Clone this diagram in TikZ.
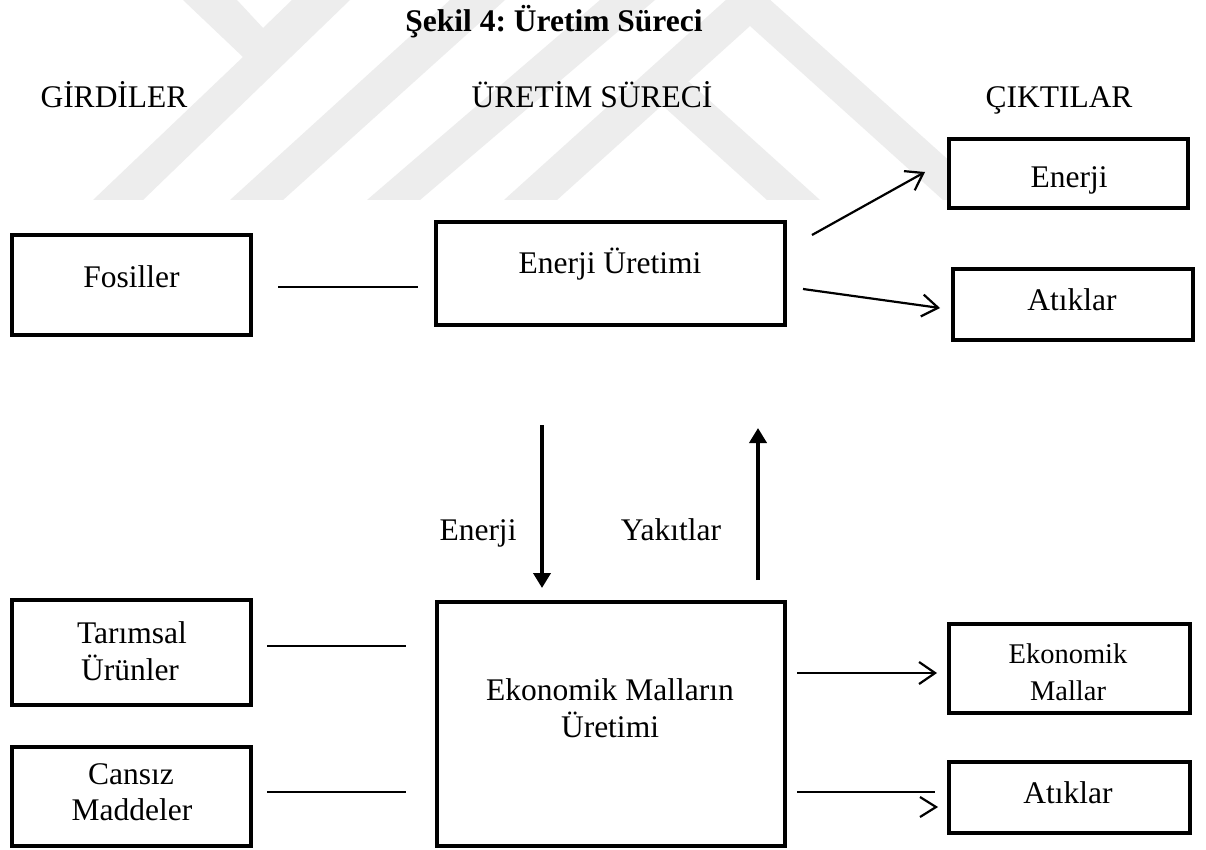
\documentclass[tikz,border=0pt]{standalone}
\usepackage{fontspec}
\setmainfont{Liberation Serif}
\usetikzlibrary{arrows.meta}
\frenchspacing

\definecolor{wmark}{gray}{0.93}

\tikzset{
  box/.style={draw=black, line width=4.5pt, inner sep=0pt, fill=white},
  txt/.style={inner sep=0pt, anchor=base, font=\fontsize{31.5}{37}\selectfont},
  smalltxt/.style={inner sep=0pt, anchor=base, font=\fontsize{28.5}{34}\selectfont},
  link/.style={line width=2.6pt},
  outarrow/.style={line width=2.2pt, -{Straight Barb[length=16pt, width=22pt, line width=2.2pt]}},
  flow/.style={line width=4pt, -{Triangle[length=15pt, width=17pt]}},
  band/.style={fill=wmark, draw=none}
}

\begin{document}
\begin{tikzpicture}[x=1pt, y=-1pt]
  \useasboundingbox (0,0) rectangle (1206,850);
  \fill[white] (0,0) rectangle (1206,850);

  % faint striped emblem behind the headings
  \begin{scope}
    \clip (0,0) rectangle (1206,200);
    \path[band] (183,0) -- (237,0) -- (263,28) -- (292,0) -- (350,0)
                -- (143,200) -- (93,200) -- (243,57) -- cycle;
    \path[band] (450,0) -- (505,0) -- (283,200) -- (230,200) -- cycle;
    \path[band] (600,0) -- (655,0) -- (420,200) -- (367,200) -- cycle;
    \path[band] (504,200) -- (748,-20) -- (993,200) -- (943,200)
                -- (750,26) -- (557,200) -- cycle;
    \path[band] (662,105) -- (688.5,81.5) -- (820,200) -- (767,200) -- cycle;
  \end{scope}

  % title and column headings
  \node[txt, font=\fontsize{31.5}{37}\selectfont\bfseries] (title) at (554,32) {Şekil 4: Üretim Süreci};
  \node[txt] (hin)  at (114,108)  {GİRDİLER};
  \node[txt] (hpro) at (592,108)  {ÜRETİM SÜRECİ};
  \node[txt] (hout) at (1059,108) {ÇIKTILAR};

  % boxes
  \node[box, minimum width=239pt, minimum height=100pt] (fos) at (131.5,285) {};
  \node[box, minimum width=349pt, minimum height=103pt] (eu)  at (610.5,273.5) {};
  \node[box, minimum width=239pt, minimum height=69pt]  (en)  at (1068.5,173.5) {};
  \node[box, minimum width=240pt, minimum height=71pt]  (at1) at (1073,304.5) {};
  \node[box, minimum width=239pt, minimum height=105pt] (tar) at (131.5,652.5) {};
  \node[box, minimum width=239pt, minimum height=99pt]  (can) at (131.5,796.5) {};
  \node[box, minimum width=348pt, minimum height=244pt] (emu) at (611,724) {};
  \node[box, minimum width=241pt, minimum height=89pt]  (em)  at (1069.5,668.5) {};
  \node[box, minimum width=241pt, minimum height=71pt]  (at2) at (1069.5,797.5) {};

  % box texts
  \node[txt] (fost)  at (131.5,287) {Fosiller};
  \node[txt] (eut)   at (610,273)   {Enerji Üretimi};
  \node[txt] (ent)   at (1069,188)  {Enerji};
  \node[txt] (at1t)  at (1072,310)  {Atıklar};
  \node[txt] (tart1) at (132,643)   {Tarımsal};
  \node[txt] (tart2) at (130,680)   {Ürünler};
  \node[txt] (cant1) at (131,784)   {Cansız};
  \node[txt] (cant2) at (132,820)   {Maddeler};
  \node[txt] (emut1) at (610,700)   {Ekonomik Malların};
  \node[txt] (emut2) at (610,737)   {Üretimi};
  \node[smalltxt] (emt1) at (1068,663) {Ekonomik};
  \node[smalltxt] (emt2) at (1068,700) {Mallar};
  \node[txt] (at2t)  at (1068,803)  {Atıklar};

  % flow labels
  \node[txt] (lbe) at (478,540) {Enerji};
  \node[txt] (lby) at (671,540) {Yakıtlar};

  % connector end points
  \coordinate (f1) at (278,287);  \coordinate (f2) at (418,287);
  \coordinate (t1) at (267,646);  \coordinate (t2) at (406,646);
  \coordinate (c1) at (267,792);  \coordinate (c2) at (406,792);
  \coordinate (o1) at (812,235);  \coordinate (o2) at (925,172);
  \coordinate (w1) at (803,289);  \coordinate (w2) at (940,308);
  \coordinate (g1) at (797,673);  \coordinate (g2) at (937,673);
  \coordinate (r1) at (797,792);  \coordinate (r2) at (935,792);
  \coordinate (rt) at (936,807);
  \coordinate (ed1) at (542,425); \coordinate (ed2) at (542,588);
  \coordinate (yu1) at (758,580); \coordinate (yu2) at (758,428);

  % input links
  \draw[link] (f1) -- (f2);
  \draw[link] (t1) -- (t2);
  \draw[link] (c1) -- (c2);

  % outputs
  \draw[outarrow] (o1) -- (o2);
  \draw[outarrow] (w1) -- (w2);
  \draw[outarrow] (g1) -- (g2);
  \draw[line width=2.2pt] (r1) -- (r2);
  \draw[line width=2.2pt, line join=miter]
       ([xshift=-16pt, yshift=10pt]rt) -- (rt) -- ([xshift=-16pt, yshift=-10pt]rt);

  % exchange between the two processes
  \draw[flow] (ed1) -- (ed2);
  \draw[flow] (yu1) -- (yu2);
\end{tikzpicture}
\end{document}
